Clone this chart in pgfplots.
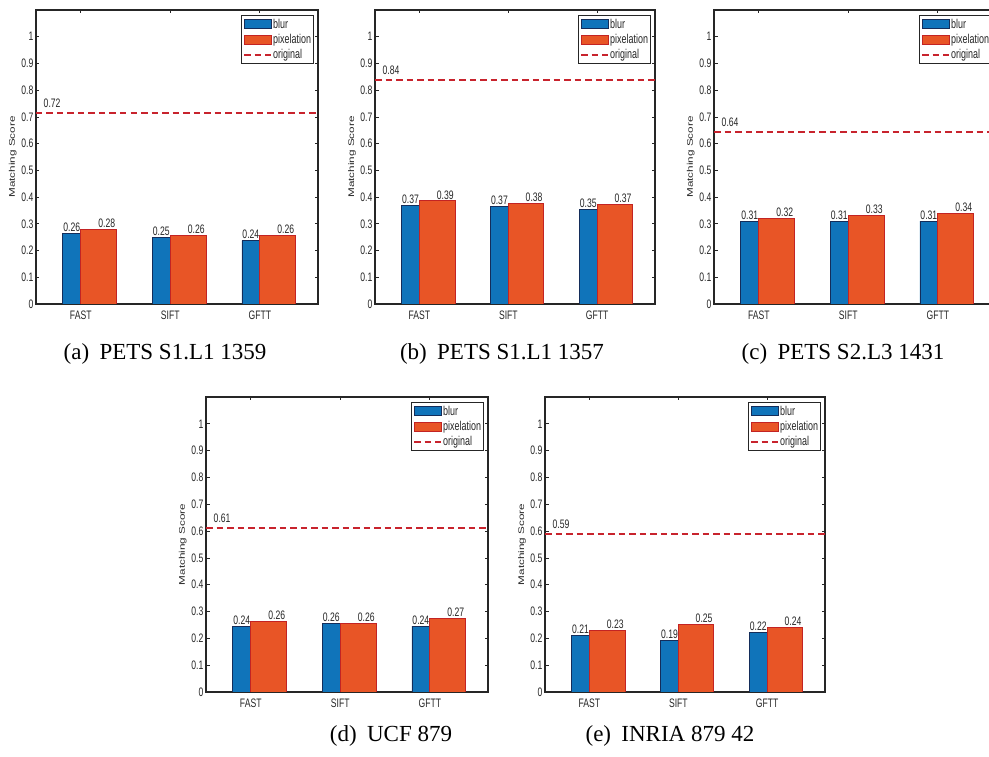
\documentclass[border=0pt]{standalone}
\usepackage{pgfplots}
\pgfplotsset{compat=1.18}
\usepackage{fontspec}
\setmainfont{Liberation Serif}
\newfontfamily\nsans[FakeStretch=0.7]{Liberation Sans}
\newfontfamily\rsans{Liberation Sans}
\definecolor{mblue}{RGB}{16,116,186}
\definecolor{mbedge}{RGB}{20,45,90}
\definecolor{mred}{RGB}{232,85,38}
\definecolor{mredge}{RGB}{195,35,35}
\definecolor{mline}{RGB}{200,35,45}
\definecolor{axc}{RGB}{38,38,38}
\newcommand\tfont{\nsans\fontsize{12.3}{12.3}\selectfont}
\newcommand\lfont{\nsans\fontsize{12.8}{12.8}\selectfont}
\pgfplotsset{
  myax/.style={
    scale only axis, anchor=south west,
    xmin=0.5, xmax=3.65, ymin=0, ymax=1.1,
    xtick={1,2,3}, xticklabels={FAST,SIFT,GFTT},
    ytick={0,0.1,0.2,0.3,0.4,0.5,0.6,0.7,0.8,0.9,1},
    yticklabels={0,0.1,0.2,0.3,0.4,0.5,0.6,0.7,0.8,0.9,1},
    tick align=inside, xtick pos=both, ytick pos=both,
    xticklabel pos=lower, yticklabel pos=left,
    major tick length=3.5pt,
    every tick/.style={axc, line width=0.8pt},
    axis line style={axc, line width=1.1pt},
    /pgf/number format/assume math mode=true,
    ticklabel style={font=\tfont, text=axc},
    yticklabel style={inner sep=1pt, xshift=-1.5pt},
    xticklabel style={inner sep=1pt, yshift=-5.5pt},
    ylabel={\scalebox{1}[0.7]{Matching Score}},
    every axis y label/.style={at={(axis description cs:-0.082,0.5)}, rotate=90, anchor=center, font=\rsans\fontsize{11.7}{12}\selectfont, text=axc},
    legend style={at={(1,1)}, anchor=north east, xshift=-4pt, yshift=-5pt,
      draw=axc, line width=1pt, fill=white, font=\lfont, text=axc,
      inner xsep=1.5pt, inner ysep=2.5pt, row sep=2.5pt,
      nodes={inner sep=1pt}},
    legend cell align=left,
  },
  blurbar/.style={ybar, bar width=0.4, bar shift=0pt, fill=mblue, draw=mbedge, line width=0.8pt,
    legend image code/.code={\draw[##1] (0pt,-4.5pt) rectangle (27pt,4.5pt);}},
  pixbar/.style={ybar, bar width=0.4, bar shift=0pt, fill=mred, draw=mredge, line width=0.8pt,
    legend image code/.code={\draw[##1] (0pt,-4.5pt) rectangle (27pt,4.5pt);}},
  origline/.style={mline, line width=2.2pt, dash pattern=on 6.5pt off 4pt,
    legend image code/.code={\draw[##1] (0pt,0pt) -- (27pt,0pt);}},
  vlab/.style={forget plot, draw=none, mark=none, point meta=explicit symbolic, nodes near coords,
    nodes near coords style={font=\tfont, text=axc, anchor=south, inner sep=1.5pt}},
  llab/.style={forget plot, draw=none, mark=none, point meta=explicit symbolic, nodes near coords,
    nodes near coords style={font=\tfont, text=axc, anchor=south, inner sep=1.5pt, yshift=3.5pt}},
}
\begin{document}
\begin{tikzpicture}
\useasboundingbox (0pt,0pt) rectangle (989pt,756pt);
% (a)
\begin{axis}[myax, at={(36pt,452pt)}, width=282pt, height=294pt]
\addplot[blurbar] coordinates {(1,0.265) (2,0.249) (3,0.237)};
\addlegendentry{blur}
\addplot[pixbar] coordinates {(1.2,0.280) (2.2,0.256) (3.2,0.256)};
\addlegendentry{pixelation}
\addplot[origline] coordinates {(0.5,0.716) (3.65,0.716)};
\addlegendentry{original}
\addplot[vlab] coordinates {(0.9,0.265)[0.26] (1.29,0.280)[0.28] (1.9,0.249)[0.25] (2.29,0.256)[0.26] (2.9,0.237)[0.24] (3.29,0.256)[0.26]};
\addplot[llab] coordinates {(0.68,0.716)[0.72]};
\end{axis}
% (b)
\begin{axis}[myax, at={(375pt,452pt)}, width=280pt, height=294pt]
\addplot[blurbar] coordinates {(1,0.370) (2,0.365) (3,0.355)};
\addlegendentry{blur}
\addplot[pixbar] coordinates {(1.2,0.386) (2.2,0.377) (3.2,0.373)};
\addlegendentry{pixelation}
\addplot[origline] coordinates {(0.5,0.838) (3.65,0.838)};
\addlegendentry{original}
\addplot[vlab] coordinates {(0.9,0.370)[0.37] (1.29,0.386)[0.39] (1.9,0.365)[0.37] (2.29,0.377)[0.38] (2.9,0.355)[0.35] (3.29,0.373)[0.37]};
\addplot[llab] coordinates {(0.68,0.838)[0.84]};
\end{axis}
% (c)
\begin{axis}[myax, at={(714pt,452pt)}, width=282pt, height=294pt]
\addplot[blurbar] coordinates {(1,0.310) (2,0.310) (3,0.310)};
\addlegendentry{blur}
\addplot[pixbar] coordinates {(1.2,0.320) (2.2,0.330) (3.2,0.340)};
\addlegendentry{pixelation}
\addplot[origline] coordinates {(0.5,0.643) (3.65,0.643)};
\addlegendentry{original}
\addplot[vlab] coordinates {(0.9,0.310)[0.31] (1.29,0.320)[0.32] (1.9,0.310)[0.31] (2.29,0.330)[0.33] (2.9,0.310)[0.31] (3.29,0.340)[0.34]};
\addplot[llab] coordinates {(0.68,0.643)[0.64]};
\end{axis}
% (d)
\begin{axis}[myax, at={(206pt,64pt)}, width=282pt, height=295pt]
\addplot[blurbar] coordinates {(1,0.246) (2,0.256) (3,0.246)};
\addlegendentry{blur}
\addplot[pixbar] coordinates {(1.2,0.262) (2.2,0.256) (3.2,0.273)};
\addlegendentry{pixelation}
\addplot[origline] coordinates {(0.5,0.612) (3.65,0.612)};
\addlegendentry{original}
\addplot[vlab] coordinates {(0.9,0.246)[0.24] (1.29,0.262)[0.26] (1.9,0.256)[0.26] (2.29,0.256)[0.26] (2.9,0.246)[0.24] (3.29,0.273)[0.27]};
\addplot[llab] coordinates {(0.68,0.612)[0.61]};
\end{axis}
% (e)
\begin{axis}[myax, at={(545pt,64pt)}, width=280pt, height=295pt]
\addplot[blurbar] coordinates {(1,0.211) (2,0.192) (3,0.221)};
\addlegendentry{blur}
\addplot[pixbar] coordinates {(1.2,0.231) (2.2,0.251) (3.2,0.241)};
\addlegendentry{pixelation}
\addplot[origline] coordinates {(0.5,0.590) (3.65,0.590)};
\addlegendentry{original}
\addplot[vlab] coordinates {(0.9,0.211)[0.21] (1.29,0.231)[0.23] (1.9,0.192)[0.19] (2.29,0.251)[0.25] (2.9,0.221)[0.22] (3.29,0.241)[0.24]};
\addplot[llab] coordinates {(0.68,0.590)[0.59]};
\end{axis}
% captions
\begin{scope}[every node/.style={anchor=base, font=\fontsize{23}{25}\selectfont, inner sep=0pt}]
\node at (165pt,396pt) {(a)\hspace{0.45em}PETS S1.L1 1359};
\node at (502pt,396pt) {(b)\hspace{0.45em}PETS S1.L1 1357};
\node at (843pt,396pt) {(c)\hspace{0.45em}PETS S2.L3 1431};
\node at (391pt,15pt) {(d)\hspace{0.45em}UCF 879};
\node at (670pt,15pt) {(e)\hspace{0.45em}INRIA 879 42};
\end{scope}
\end{tikzpicture}
\end{document}
